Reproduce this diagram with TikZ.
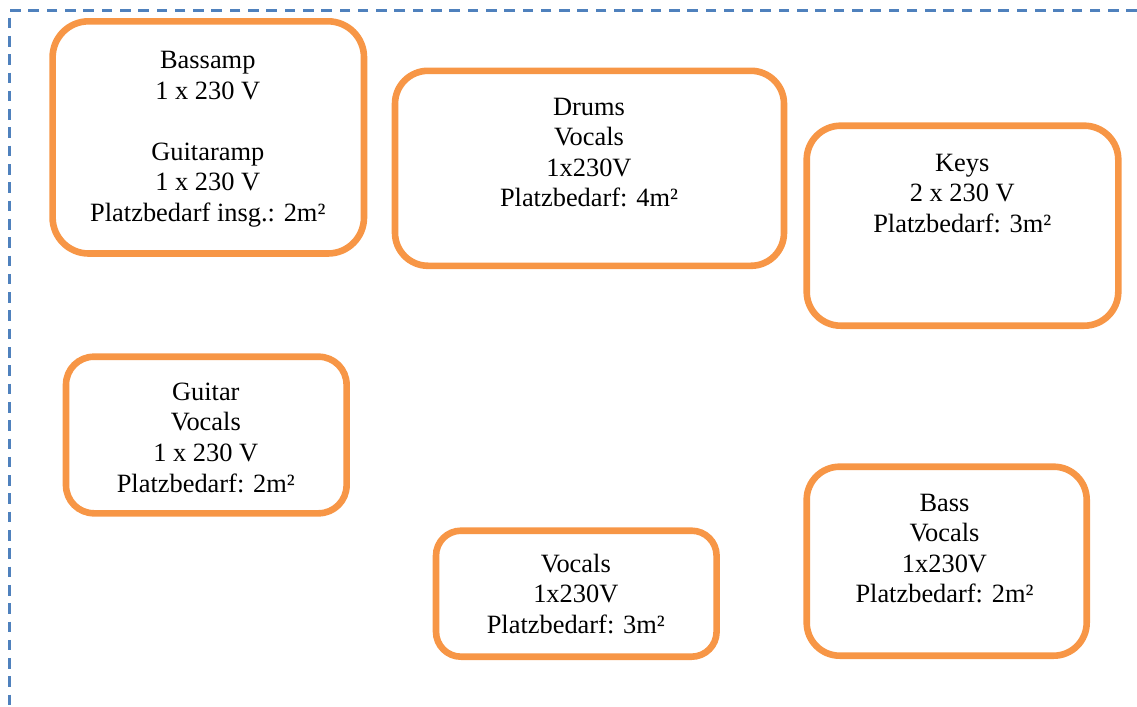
\documentclass[tikz,border=0pt]{standalone}
\usepackage{fontspec}
\setmainfont{Liberation Serif}
\usepackage{xcolor}
\definecolor{stageorange}{HTML}{F79646}
\definecolor{stageblue}{HTML}{4F81BD}

\begin{document}
\begin{tikzpicture}[x = 0.5pt, y = -0.5pt,
    spot/.style = {draw = stageorange, fill = white, line width = 3.3pt, inner sep = 0pt},
    spottext/.style = {anchor = north, align = center, inner sep = 0pt, font = \fontsize{13.2pt}{15.3pt}\selectfont}]
    \useasboundingbox (0, 0) rectangle (1137, 707);
    \draw[stageblue, line width = 1.4pt, dash pattern = on 5.3pt off 3.85pt] (1137, 10.3) -- (9.7, 10.3) -- (9.7, 707);
    \node[spot, minimum width = 155.7pt, minimum height = 116.1pt, rounded corners = 18pt] (amps) at (208.3, 137.4) {};
    \node[spot, minimum width = 194.5pt, minimum height = 97.5pt, rounded corners = 16.5pt] (drums) at (589.5, 168.3) {};
    \node[spot, minimum width = 155.8pt, minimum height = 100pt, rounded corners = 17pt] (keys) at (962.5, 225.7) {};
    \node[spot, minimum width = 140.3pt, minimum height = 78.3pt, rounded corners = 14pt] (guitar) at (206.3, 435) {};
    \node[spot, minimum width = 140.3pt, minimum height = 63pt, rounded corners = 12.5pt] (vocals) at (576.3, 593.7) {};
    \node[spot, minimum width = 140pt, minimum height = 94.5pt, rounded corners = 16.5pt] (bass) at (946.7, 561.2) {};
    \node[spottext] (ampstext) at (207.8, 50.8) {Bassamp\\1 x 230 V\\[15.3pt]Guitaramp\\1 x 230 V\\Platzbedarf insg.: 2m²};
    \node[spottext] (drumstext) at (589, 97.5) {Drums\\Vocals\\1x230V\\Platzbedarf: 4m²};
    \node[spottext] (keystext) at (962.3, 153.5) {Keys\\2 x 230 V\\Platzbedarf: 3m²};
    \node[spottext] (guitartext) at (205.8, 382.5) {Guitar\\Vocals\\1 x 230 V\\Platzbedarf: 2m²};
    \node[spottext] (vocalstext) at (575.8, 553.6) {Vocals\\1x230V\\Platzbedarf: 3m²};
    \node[spottext] (basstext) at (944.5, 493.5) {Bass\\Vocals\\1x230V\\Platzbedarf: 2m²};
\end{tikzpicture}
\end{document}
